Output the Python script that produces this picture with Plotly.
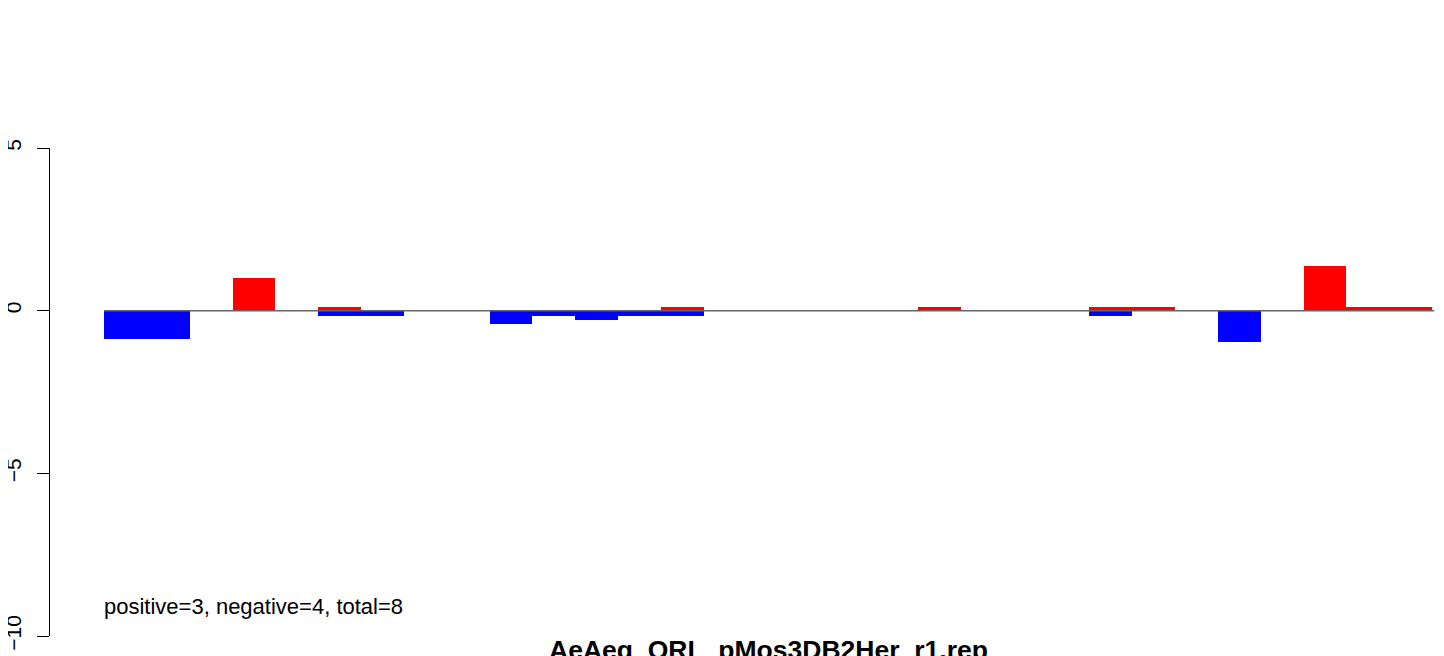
import plotly.graph_objects as go

# slot index of each bar position (31 positions)
positions = list(range(31))
# red (positive) series values per position
red_values = [None, None, None, 1.0, None, 0.12, None, None, None, None,
              None, None, None, 0.12, None, None, None, None, None, 0.12,
              None, None, None, 0.12, 0.12, None, None, None, 1.38, 0.12, 0.12]
# blue (negative) series values per position
blue_values = [-0.86, -0.86, None, None, None, -0.15, -0.15, None, None, -0.42,
               -0.15, -0.3, -0.15, -0.15, None, None, None, None, None, None,
               None, None, None, -0.15, None, None, -0.97, None, None, None, None]
y_ticks = [-10, -5, 0, 5]
y_tick_labels = ["\u221210", "\u22125", "0", "5"]
title_text = "AeAeg_ORL_pMos3DB2Her_r1.rep"
note_text = "positive=3, negative=4, total=8"

font = "Liberation Sans, Arial, sans-serif"

fig = go.Figure()
fig.add_trace(go.Bar(x=positions, y=red_values, width=1.0,
                     marker=dict(color="#FF0000", line=dict(width=0)),
                     showlegend=False))
fig.add_trace(go.Bar(x=positions, y=blue_values, width=1.0,
                     marker=dict(color="#0000FF", line=dict(width=0)),
                     showlegend=False))

fig.add_shape(type="line", xref="x", yref="y",
              x0=positions[0] - 0.5, x1=positions[-1] + 0.55, y0=0, y1=0,
              line=dict(color="#666666", width=1.5), layer="above")

fig.add_annotation(x=positions[0] - 0.5, y=-9.08, xref="x", yref="y", xshift=-2,
                   text=note_text, showarrow=False, xanchor="left", yanchor="middle",
                   font=dict(family=font, size=22, color="black"))
fig.add_annotation(x=(positions[0] + positions[-1]) / 2, y=0, xref="x", yref="paper", yshift=3,
                   text="<b>" + title_text + "</b>", showarrow=False,
                   xanchor="center", yanchor="top",
                   font=dict(family=font, size=26.5, color="black"))

unit = 42.84
x_lo = -0.5 - 54 / unit
x_hi = -0.5 + 1340 / unit

fig.update_layout(
    width=1436, height=648,
    margin=dict(l=42, r=0, t=140, b=20, autoexpand=False),
    paper_bgcolor="white", plot_bgcolor="white",
    barmode="overlay",
    bargap=0,
    font=dict(family=font, size=21, color="black"),
    xaxis=dict(range=[x_lo, x_hi], visible=False, showgrid=False, zeroline=False,
               fixedrange=True, automargin=False),
    yaxis=dict(range=[-10, 5], tickvals=y_ticks, ticktext=y_tick_labels,
               tickangle=-90, ticks="outside", ticklen=12, tickwidth=1, tickcolor="black",
               showline=True, linecolor="black", linewidth=1, automargin=False,
               showgrid=False, zeroline=False, ticklabelstandoff=8,
               tickfont=dict(family=font, size=21, color="black")),
)

fig.write_html("out.html")
